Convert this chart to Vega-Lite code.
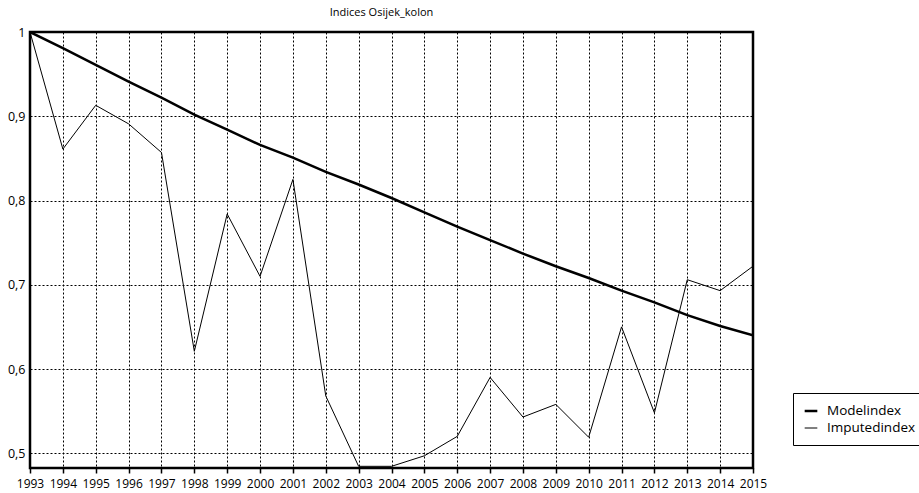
{
  "$schema": "https://vega.github.io/schema/vega-lite/v6.json",
  "width": 723,
  "height": 436,
  "autosize": "none",
  "padding": {"left": 30, "top": 32, "right": 166, "bottom": 25},
  "background": "white",
  "title": {"text": "Indices Osijek_kolon", "fontSize": 11, "font": "Open Sans", "fontWeight": "normal", "color": "black", "offset": 8, "dx": -10},
  "config": {
    "view": {"stroke": "black", "strokeWidth": 2.5},
    "font": "Open Sans",
    "axis": {"labelFont": "Open Sans", "labelColor": "black", "gridColor": "black", "gridDash": [2, 2], "gridWidth": 1, "gridOpacity": 1, "domain": false, "tickColor": "black", "title": null}
  },
  "datasets": {
    "d": [
      {"year": 1993, "series": "Modelindex", "value": 1.0},
      {"year": 1994, "series": "Modelindex", "value": 0.981},
      {"year": 1995, "series": "Modelindex", "value": 0.961},
      {"year": 1996, "series": "Modelindex", "value": 0.941},
      {"year": 1997, "series": "Modelindex", "value": 0.922},
      {"year": 1998, "series": "Modelindex", "value": 0.902},
      {"year": 1999, "series": "Modelindex", "value": 0.884},
      {"year": 2000, "series": "Modelindex", "value": 0.866},
      {"year": 2001, "series": "Modelindex", "value": 0.851},
      {"year": 2002, "series": "Modelindex", "value": 0.834},
      {"year": 2003, "series": "Modelindex", "value": 0.819},
      {"year": 2004, "series": "Modelindex", "value": 0.803},
      {"year": 2005, "series": "Modelindex", "value": 0.786},
      {"year": 2006, "series": "Modelindex", "value": 0.769},
      {"year": 2007, "series": "Modelindex", "value": 0.753},
      {"year": 2008, "series": "Modelindex", "value": 0.737},
      {"year": 2009, "series": "Modelindex", "value": 0.722},
      {"year": 2010, "series": "Modelindex", "value": 0.708},
      {"year": 2011, "series": "Modelindex", "value": 0.693},
      {"year": 2012, "series": "Modelindex", "value": 0.679},
      {"year": 2013, "series": "Modelindex", "value": 0.664},
      {"year": 2014, "series": "Modelindex", "value": 0.651},
      {"year": 2015, "series": "Modelindex", "value": 0.640},
      {"year": 1993, "series": "Imputedindex", "value": 1.0},
      {"year": 1994, "series": "Imputedindex", "value": 0.861},
      {"year": 1995, "series": "Imputedindex", "value": 0.913},
      {"year": 1996, "series": "Imputedindex", "value": 0.891},
      {"year": 1997, "series": "Imputedindex", "value": 0.857},
      {"year": 1998, "series": "Imputedindex", "value": 0.621},
      {"year": 1999, "series": "Imputedindex", "value": 0.784},
      {"year": 2000, "series": "Imputedindex", "value": 0.710},
      {"year": 2001, "series": "Imputedindex", "value": 0.825},
      {"year": 2002, "series": "Imputedindex", "value": 0.568},
      {"year": 2003, "series": "Imputedindex", "value": 0.4845},
      {"year": 2004, "series": "Imputedindex", "value": 0.4845},
      {"year": 2005, "series": "Imputedindex", "value": 0.497},
      {"year": 2006, "series": "Imputedindex", "value": 0.520},
      {"year": 2007, "series": "Imputedindex", "value": 0.590},
      {"year": 2008, "series": "Imputedindex", "value": 0.543},
      {"year": 2009, "series": "Imputedindex", "value": 0.558},
      {"year": 2010, "series": "Imputedindex", "value": 0.519},
      {"year": 2011, "series": "Imputedindex", "value": 0.650},
      {"year": 2012, "series": "Imputedindex", "value": 0.548},
      {"year": 2013, "series": "Imputedindex", "value": 0.706},
      {"year": 2014, "series": "Imputedindex", "value": 0.693},
      {"year": 2015, "series": "Imputedindex", "value": 0.722}
    ]
  },
  "data": {"name": "d"},
  "mark": {"type": "line", "clip": true, "strokeJoin": "miter"},
  "encoding": {
    "x": {
      "field": "year", "type": "quantitative",
      "scale": {"domain": [1993, 2015], "nice": false, "zero": false},
      "axis": {"values": [1993,1994,1995,1996,1997,1998,1999,2000,2001,2002,2003,2004,2005,2006,2007,2008,2009,2010,2011,2012,2013,2014,2015], "format": "d", "labelFontSize": 12, "tickSize": 5, "tickWidth": 1.5, "labelPadding": 5, "labelFlush": false, "labelOverlap": false, "grid": true}
    },
    "y": {
      "field": "value", "type": "quantitative",
      "scale": {"domain": [0.4825, 1.0], "nice": false, "zero": false},
      "axis": {"values": [0.5, 0.6, 0.7, 0.8, 0.9, 1.0], "labelExpr": "replace(format(datum.value, '.1~f'), '.', ',')", "labelFontSize": 12.5, "ticks": false, "labelPadding": 5, "grid": true}
    },
    "detail": {"field": "series"},
    "color": {
      "field": "series", "type": "nominal",
      "scale": {"domain": ["Modelindex", "Imputedindex"], "range": ["black", "black"]},
      "legend": {"title": null, "orient": "none", "legendX": 763, "legendY": 361, "strokeColor": "black", "fillColor": "white", "padding": 10, "symbolType": "stroke", "symbolSize": 160, "labelFontSize": 13.5, "labelColor": "black", "labelOffset": 8, "rowPadding": 3}
    },
    "strokeWidth": {
      "field": "series", "type": "nominal",
      "scale": {"domain": ["Modelindex", "Imputedindex"], "range": [2.5, 1]},
      "legend": {"title": null, "orient": "none", "legendX": 763, "legendY": 361, "strokeColor": "black", "fillColor": "white", "padding": 10, "symbolType": "stroke", "symbolSize": 160, "labelFontSize": 13.5, "labelColor": "black", "labelOffset": 8, "rowPadding": 3}
    }
  }
}
